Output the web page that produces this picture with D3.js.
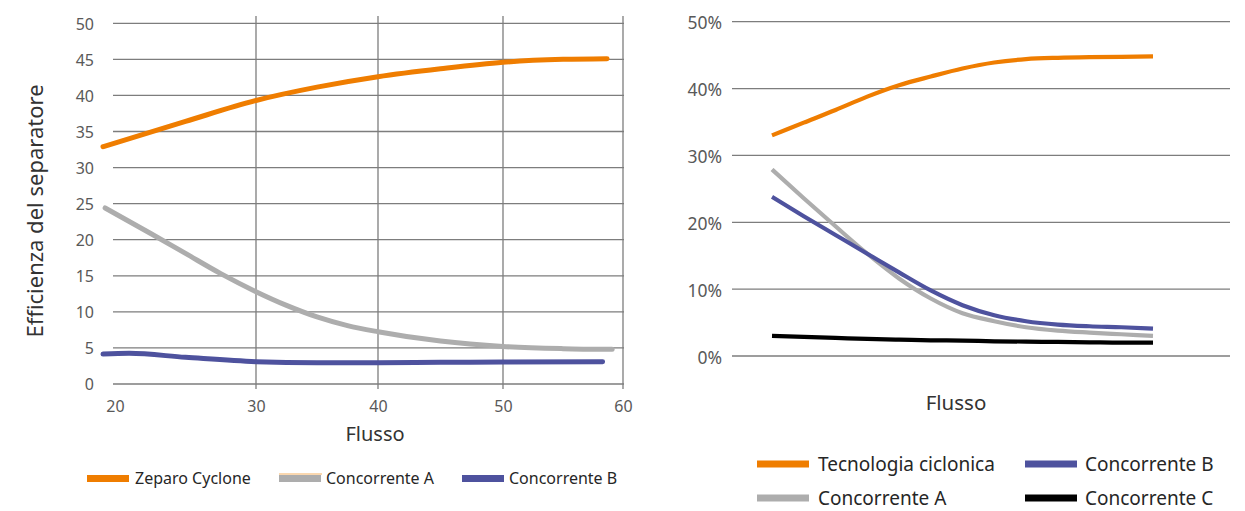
<!DOCTYPE html>
<html>
<head>
<meta charset="utf-8">
<script src="https://cdn.jsdelivr.net/npm/d3@7/dist/d3.min.js"></script>
<style>
  html, body { margin: 0; padding: 0; background: #fff; }
  svg { display: block; font-family: "Noto Sans", "Open Sans", sans-serif; }
</style>
</head>
<body>
<svg id="chart" width="1245" height="511"></svg>
<script>
// ---------- LEFT CHART DATA ----------
const leftXTicks = [20, 30, 40, 50, 60];
const leftYTicks = [0, 5, 10, 15, 20, 25, 30, 35, 40, 45, 50];
const leftSeriesNames = ["Zeparo Cyclone", "Concorrente A", "Concorrente B"];
const zeparoX = [19.15, 25, 30, 35, 40, 45, 50, 55, 58.67];
const zeparoY = [32.9, 36.4, 39.3, 41.15, 42.6, 43.7, 44.6, 45.0, 45.1];
const concAX = [19.3, 22.5, 25, 27.5, 30, 32.5, 35, 37.5, 40, 45, 50, 55, 59.1];
const concAY = [24.4, 20.9, 18.1, 15.3, 12.8, 10.9, 9.3, 8.1, 7.25, 5.95, 5.2, 4.9, 4.8];
const concBX = [19.15, 21, 25, 30, 35, 40, 45, 50, 58.3];
const concBY = [4.15, 4.25, 3.7, 3.1, 2.95, 2.95, 3.0, 3.05, 3.1];

// ---------- RIGHT CHART DATA ----------
const rightYTicks = [0, 0.1, 0.2, 0.3, 0.4, 0.5];
const rightSeriesNames = ["Tecnologia ciclonica", "Concorrente A", "Concorrente B", "Concorrente C"];
const rightX = [0, 1, 2, 3, 4, 5, 6, 7, 8, 9, 10, 11, 12];
const tecnologia = [0.330, 0.349, 0.368, 0.388, 0.405, 0.418, 0.430, 0.439, 0.444, 0.446, 0.447, 0.4475, 0.448];
const rConcA = [0.279, 0.236, 0.194, 0.153, 0.116, 0.086, 0.064, 0.052, 0.043, 0.038, 0.035, 0.0325, 0.030];
const rConcB = [0.238, 0.209, 0.181, 0.153, 0.125, 0.098, 0.076, 0.061, 0.052, 0.047, 0.0445, 0.043, 0.041];
const rConcC = [0.030, 0.0285, 0.027, 0.0255, 0.0245, 0.0235, 0.023, 0.022, 0.0215, 0.021, 0.0205, 0.020, 0.020];

const ORANGE = "#EF7D00", GRAY = "#ADADAD", BLUE = "#4E529E", BLACK = "#000000";
const GRID = "#7d7d7d";

const svg = d3.select("#chart");
svg.append("rect").attr("width", 1245).attr("height", 511).attr("fill", "#fff");

// ======== LEFT CHART ========
const lx = d3.scaleLinear().domain(leftXTicks).range([115, 256, 378, 503, 623]);
const ly = d3.scaleLinear().domain([0, 50]).range([384, 23.3]);
const L = svg.append("g");

L.append("g").selectAll("line").data(leftYTicks).join("line")
  .attr("x1", 113).attr("x2", 624)
  .attr("y1", d => ly(d)).attr("y2", d => ly(d))
  .attr("stroke", GRID).attr("stroke-width", 1.3);
L.append("g").selectAll("line").data(leftXTicks.slice(1)).join("line")
  .attr("x1", d => lx(d)).attr("x2", d => lx(d))
  .attr("y1", 16).attr("y2", 389)
  .attr("stroke", GRID).attr("stroke-width", 1.3);

const lyAxis = d3.axisLeft(ly).tickValues(leftYTicks).tickSize(0).tickPadding(0);
const lyG = L.append("g").attr("transform", "translate(94,0)").call(lyAxis);
lyG.select(".domain").remove();
lyG.selectAll("text").attr("font-size", 16).attr("fill", "#595959")
  .attr("font-family", "'Noto Sans', sans-serif").attr("dy", "0.36em");

const lxAxis = d3.axisBottom(lx).tickValues(leftXTicks).tickSize(0).tickPadding(0);
const lxG = L.append("g").attr("transform", "translate(0,400)").call(lxAxis);
lxG.select(".domain").remove();
lxG.selectAll("text").attr("font-size", 16).attr("fill", "#595959")
  .attr("font-family", "'Noto Sans', sans-serif").attr("dy", "0.76em");

L.append("text").attr("x", 375).attr("y", 440.5).attr("text-anchor", "middle")
  .attr("font-size", 20).attr("fill", "#333").text("Flusso");
L.append("text").attr("transform", "translate(43,211) rotate(-90)")
  .attr("text-anchor", "middle").attr("font-size", 22).attr("fill", "#333")
  .text("Efficienza del separatore");

const lline = d3.line().x(d => lx(d[0])).y(d => ly(d[1])).curve(d3.curveMonotoneX);
const leftSeries = [
  { x: concAX, y: concAY, c: GRAY },
  { x: concBX, y: concBY, c: BLUE },
  { x: zeparoX, y: zeparoY, c: ORANGE }
];
leftSeries.forEach(s => {
  L.append("path").datum(d3.zip(s.x, s.y)).attr("d", lline)
    .attr("fill", "none").attr("stroke", s.c).attr("stroke-width", 5)
    .attr("stroke-linecap", "round").attr("stroke-linejoin", "round");
});

const leftLegend = [
  { name: leftSeriesNames[0], c: ORANGE, sx: 87, tx: 135 },
  { name: leftSeriesNames[1], c: GRAY, sx: 279, tx: 326 },
  { name: leftSeriesNames[2], c: BLUE, sx: 462, tx: 509 }
];
const LL = L.append("g");
leftLegend.forEach((d, i) => {
  LL.append("rect").attr("x", d.sx).attr("y", 475).attr("width", 42).attr("height", 7).attr("fill", d.c);
  if (i === 1) {
    LL.append("line").attr("x1", d.sx).attr("x2", d.sx + 43).attr("y1", 474).attr("y2", 474)
      .attr("stroke", "#F5B060").attr("stroke-width", 1);
  }
  LL.append("text").attr("x", d.tx).attr("y", 483.5).attr("font-size", 16)
    .attr("fill", "#262626").text(d.name);
});

// ======== RIGHT CHART ========
const rx = d3.scaleLinear().domain([0, 12]).range([772, 1153]);
const ry = d3.scaleLinear().domain([0, 0.5]).range([356, 21.7]);
const R = svg.append("g");

R.append("g").selectAll("line").data(rightYTicks).join("line")
  .attr("x1", 732).attr("x2", 1230)
  .attr("y1", d => ry(d)).attr("y2", d => ry(d))
  .attr("stroke", GRID).attr("stroke-width", 1.3);

const ryAxis = d3.axisLeft(ry).tickValues(rightYTicks).tickSize(0).tickPadding(0).tickFormat(d3.format(".0%"));
const ryG = R.append("g").attr("transform", "translate(722,0)").call(ryAxis);
ryG.select(".domain").remove();
ryG.selectAll("text").attr("font-size", 17.5).attr("fill", "#595959")
  .attr("font-family", "'Noto Sans', sans-serif").attr("dy", "0.4em");

R.append("text").attr("x", 956).attr("y", 410).attr("text-anchor", "middle")
  .attr("font-size", 20.5).attr("fill", "#333").text("Flusso");

const rline = d3.line().x(d => rx(d[0])).y(d => ry(d[1])).curve(d3.curveMonotoneX);
const rightSeries = [
  { y: rConcC, c: BLACK },
  { y: rConcA, c: GRAY },
  { y: rConcB, c: BLUE },
  { y: tecnologia, c: ORANGE }
];
rightSeries.forEach(s => {
  R.append("path").datum(d3.zip(rightX, s.y)).attr("d", rline)
    .attr("fill", "none").attr("stroke", s.c).attr("stroke-width", 4.2)
    .attr("stroke-linejoin", "round");
});

const rightLegend = [
  { name: rightSeriesNames[0], c: ORANGE, sx: 757, tx: 818, y: 464 },
  { name: rightSeriesNames[2], c: BLUE, sx: 1025, tx: 1085, y: 464 },
  { name: rightSeriesNames[1], c: GRAY, sx: 757, tx: 818, y: 498 },
  { name: rightSeriesNames[3], c: BLACK, sx: 1025, tx: 1085, y: 498 }
];
rightLegend.forEach(d => {
  R.append("rect").attr("x", d.sx).attr("y", d.y - 3.5).attr("width", 52).attr("height", 7).attr("fill", d.c);
  R.append("text").attr("x", d.tx).attr("y", d.y + 7).attr("font-size", 19)
    .attr("fill", "#262626").text(d.name);
});
</script>
</body>
</html>
